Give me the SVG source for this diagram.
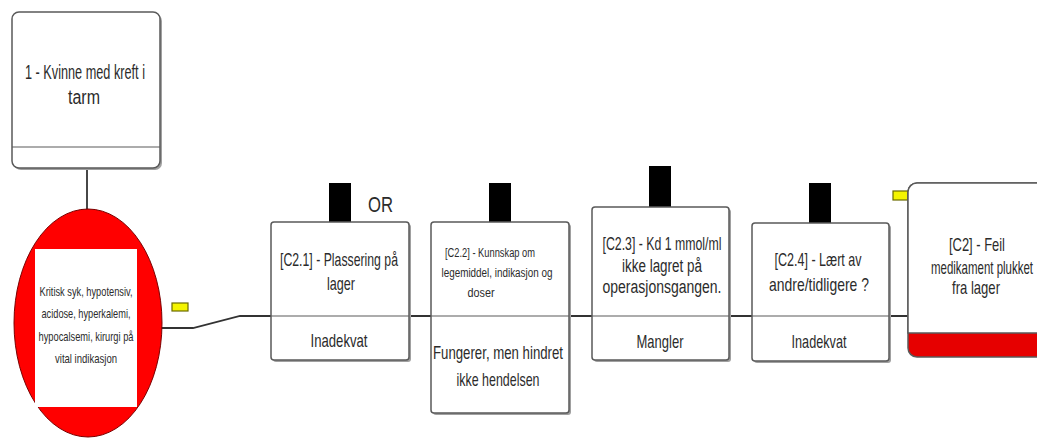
<svg xmlns="http://www.w3.org/2000/svg" width="1037" height="438" viewBox="0 0 1037 438">
<style>
.t{font-family:"Liberation Sans",Arial,sans-serif;fill:#2b2b2b;text-anchor:middle}
.box{fill:#fff;stroke:#5a5a5a;stroke-width:1.5}
.sh{fill:#a0a0a0}
.div{stroke:#5a5a5a;stroke-width:1.2}
.blk{fill:#000}
.yel{fill:#f4f400;stroke:#6b6b00;stroke-width:1.2}
.con{fill:none;stroke:#333;stroke-width:1.8}
</style>
<g id="connectors">
<line class="con" x1="87" y1="168" x2="87" y2="210"/>
<polyline class="con" points="160,328 193,328 240,316 908,316"/>
</g>
<g id="node-event">
<rect class="sh" x="14" y="14" width="148" height="156" rx="7"/>
<rect class="box" x="12" y="12" width="148" height="156" rx="7"/>
<line class="div" x1="12" y1="147" x2="160" y2="147"/>
<text class="t" font-size="20" x="85" y="79" textLength="120" lengthAdjust="spacingAndGlyphs">1 - Kvinne med kreft i</text>
<text class="t" font-size="20" x="84" y="104" textLength="32" lengthAdjust="spacingAndGlyphs">tarm</text>
</g>
<g id="node-threat">
<ellipse cx="88" cy="323" rx="74" ry="114" fill="#ff0000" stroke="#7a0000" stroke-width="1"/>
<rect x="35" y="249" width="102" height="158" fill="#fff"/>
<text class="t" font-size="13" x="86" y="296" textLength="93" lengthAdjust="spacingAndGlyphs">Kritisk syk, hypotensiv,</text>
<text class="t" font-size="13" x="86" y="318" textLength="89" lengthAdjust="spacingAndGlyphs">acidose, hyperkalemi,</text>
<text class="t" font-size="13" x="86" y="341" textLength="95" lengthAdjust="spacingAndGlyphs">hypocalsemi, kirurgi på</text>
<text class="t" font-size="13" x="86" y="363" textLength="62" lengthAdjust="spacingAndGlyphs">vital indikasjon</text>
<rect class="yel" x="172" y="303" width="16" height="8"/>
</g>
<g id="node-c21">
<rect class="blk" x="329" y="183" width="22" height="39"/>
<text class="t" font-size="22" x="380.5" y="212" textLength="25" lengthAdjust="spacingAndGlyphs">OR</text>
<rect class="sh" x="273" y="224" width="138" height="138" rx="3"/>
<rect class="box" x="271" y="222" width="138" height="138" rx="3"/>
<line class="div" x1="271" y1="316" x2="409" y2="316"/>
<text class="t" font-size="19" x="339" y="266" textLength="118" lengthAdjust="spacingAndGlyphs">[C2.1] - Plassering på</text>
<text class="t" font-size="19" x="341" y="290" textLength="28" lengthAdjust="spacingAndGlyphs">lager</text>
<text class="t" font-size="19" x="339" y="347" textLength="57" lengthAdjust="spacingAndGlyphs">Inadekvat</text>
</g>
<g id="node-c22">
<rect class="blk" x="489" y="183" width="22" height="39"/>
<rect class="sh" x="433" y="224" width="138" height="191" rx="3"/>
<rect class="box" x="431" y="222" width="138" height="191" rx="3"/>
<line class="div" x1="431" y1="316" x2="569" y2="316"/>
<text class="t" font-size="12" x="490" y="257" textLength="90" lengthAdjust="spacingAndGlyphs">[C2.2] - Kunnskap om</text>
<text class="t" font-size="12" x="497" y="277" textLength="111" lengthAdjust="spacingAndGlyphs">legemiddel, indikasjon og</text>
<text class="t" font-size="12" x="481" y="297" textLength="27" lengthAdjust="spacingAndGlyphs">doser</text>
<text class="t" font-size="19" x="498" y="359" textLength="130" lengthAdjust="spacingAndGlyphs">Fungerer, men hindret</text>
<text class="t" font-size="19" x="498" y="386" textLength="83" lengthAdjust="spacingAndGlyphs">ikke hendelsen</text>
</g>
<g id="node-c23">
<rect class="blk" x="649" y="166" width="22" height="41"/>
<rect class="sh" x="594" y="209" width="137" height="153" rx="3"/>
<rect class="box" x="592" y="207" width="137" height="153" rx="3"/>
<line class="div" x1="592" y1="316" x2="729" y2="316"/>
<text class="t" font-size="18" x="662" y="250" textLength="119" lengthAdjust="spacingAndGlyphs">[C2.3] - Kd 1 mmol/ml</text>
<text class="t" font-size="18" x="662" y="272" textLength="80" lengthAdjust="spacingAndGlyphs">ikke lagret på</text>
<text class="t" font-size="18" x="662" y="293" textLength="119" lengthAdjust="spacingAndGlyphs">operasjonsgangen.</text>
<text class="t" font-size="19" x="660" y="348" textLength="47" lengthAdjust="spacingAndGlyphs">Mangler</text>
</g>
<g id="node-c24">
<rect class="blk" x="809" y="183" width="22" height="40"/>
<rect class="sh" x="754" y="225" width="137" height="138" rx="3"/>
<rect class="box" x="752" y="223" width="137" height="138" rx="3"/>
<line class="div" x1="752" y1="316" x2="889" y2="316"/>
<text class="t" font-size="19" x="818" y="266" textLength="87" lengthAdjust="spacingAndGlyphs">[C2.4] - Lært av</text>
<text class="t" font-size="19" x="819" y="291" textLength="100" lengthAdjust="spacingAndGlyphs">andre/tidligere ?</text>
<text class="t" font-size="19" x="819" y="348" textLength="55" lengthAdjust="spacingAndGlyphs">Inadekvat</text>
</g>
<g id="node-c2">
<rect class="yel" x="893" y="191" width="15" height="9"/>
<rect x="908" y="183" width="150" height="174" rx="9" fill="#e60000" stroke="#5a5a5a" stroke-width="1.5"/>
<path d="M908,333 V192 A9,9 0 0 1 917,183 H1058 V333 Z" fill="#fff" stroke="#5a5a5a" stroke-width="1.5"/>
<text class="t" font-size="19" x="977" y="251" textLength="56" lengthAdjust="spacingAndGlyphs">[C2] - Feil</text>
<text class="t" font-size="19" x="982" y="274" textLength="102" lengthAdjust="spacingAndGlyphs">medikament plukket</text>
<text class="t" font-size="19" x="976" y="294" textLength="48" lengthAdjust="spacingAndGlyphs">fra lager</text>
</g>
</svg>
